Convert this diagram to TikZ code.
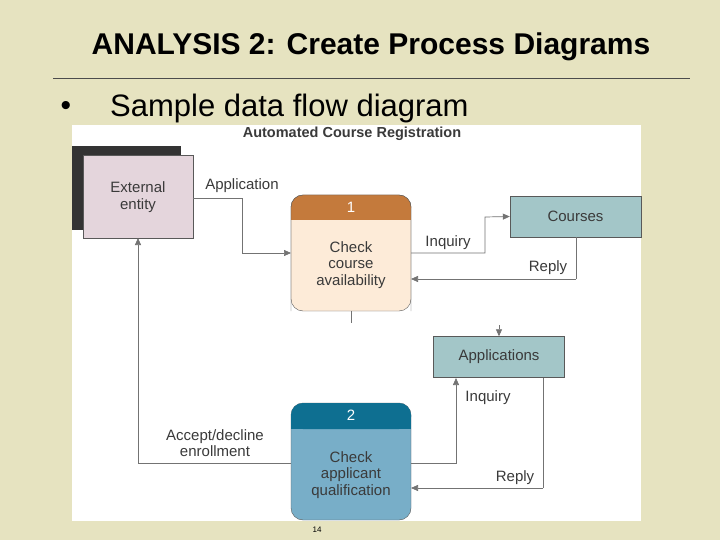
\documentclass[tikz,border=0pt]{standalone}
\usepackage{fontspec}
\setmainfont{Liberation Sans}
\usetikzlibrary{arrows.meta}
\definecolor{bg}{HTML}{E6E3C0}
\definecolor{entfill}{HTML}{E4D5DC}
\definecolor{storefill}{HTML}{A3C6C8}
\definecolor{ohead}{HTML}{C47A3C}
\definecolor{obody}{HTML}{FDEBD8}
\definecolor{bhead}{HTML}{0E6F91}
\definecolor{bbody}{HTML}{78AEC8}
\definecolor{txt}{HTML}{3A3A3A}
\tikzset{
 lbl/.style={font=\fontsize{15}{16.5}\selectfont, text=txt, align=center, inner sep=0pt},
 store/.style={draw=gray!70!black, fill=storefill, minimum width=131pt, minimum height=41pt, lbl, inner sep=0pt},
 flow/.style={draw=gray!90!black, line width=0.7pt, -{Triangle[length=7pt,width=6pt]}},
 plain/.style={draw=gray!90!black, line width=0.7pt},
}
\begin{document}
\begin{tikzpicture}[x=1pt,y=-1pt]
\useasboundingbox (0,0) rectangle (720,540);
\fill[bg] (0,0) rectangle (720,540);
\node (title) at (371,47) {\fontsize{30}{34}\selectfont\bfseries ANALYSIS 2: Create Process Diagrams};
\draw[black!70, line width=0.6pt] (53,78) -- (690,78);
\node (bul) at (66,108) {\fontsize{30}{34}\selectfont •};
\node[anchor=west, inner sep=0pt] (sub) at (110,108) {\fontsize{31}{34}\selectfont Sample data flow diagram};
\fill[white] (72,125) rectangle (641,521);
\node (head) at (352,134) {\fontsize{14.5}{16}\selectfont\bfseries\color{txt}Automated Course Registration};
% external entity
\fill[black!80] (72,146) rectangle (181,230);
\draw[gray!70!black, fill=entfill] (83,155) rectangle (193,238);
\node[lbl] (ext) at (138,197) {External\\entity};
\coordinate (extR) at (193,198);
\coordinate (extB) at (138,238);
% process 1
\draw[gray!70!black, fill=obody, rounded corners=12pt] (291,195) rectangle (411,311);
\fill[ohead, rounded corners=12pt] (291,195) -- (411,195) -- (411,220) -- (291,220) -- cycle;
\fill[ohead] (291,208) rectangle (411,220);
\draw[gray!70!black, rounded corners=12pt] (291,311) -- (291,195) -- (411,195) -- (411,311);
\node[lbl, text=white] (n1) at (351,207) {1};
\node[lbl] (p1) at (351,265) {Check\\course\\availability};
\coordinate (p1a) at (291,253);
\coordinate (p1b) at (411,253);
\coordinate (p1c) at (411,279);
\coordinate (p1d) at (351,311);
\coordinate (p1e) at (351,323);
% process 2
\draw[gray!70!black, fill=bbody, rounded corners=12pt] (291,403) rectangle (411,520);
\fill[bhead, rounded corners=12pt] (291,403) -- (411,403) -- (411,429) -- (291,429) -- cycle;
\fill[bhead] (291,416) rectangle (411,429);
\node[lbl, text=white] (n2) at (351,415) {2};
\node[lbl] (p2) at (351,475) {Check\\applicant\\qualification};
\coordinate (p2a) at (291,463);
\coordinate (p2b) at (411,463);
\coordinate (p2c) at (411,488);
% stores
\node[store] (courses) at (575.5,216.5) {Courses};
\node[store] (apps) at (499,357) {Applications};
% flows
\draw[flow] (extR) -- (242,198) -- (242,253) -- (p1a);
\node[lbl] (l1) at (242,186) {Application};
\draw[flow] (p1b) -- (485,253) -- (485,217) -- (courses.west);
\node[lbl] (l2) at (448,243) {Inquiry};
\draw[plain] (576,237) -- (576,279);
\draw[flow] (576,279) -- (p1c);
\node[lbl] (l3) at (548,268) {Reply};
\draw[plain] (p1d) -- (p1e);
\coordinate (ain) at (499,325);
\draw[flow] (ain) -- (apps.north);
\draw[flow] (p2b) -- (456,463) -- (456,378);
\node[lbl] (l4) at (488,398) {Inquiry};
\draw[plain] (543,378) -- (543,488);
\draw[flow] (543,488) -- (p2c);
\node[lbl] (l5) at (515,478) {Reply};
\draw[flow] (p2a) -- (138,463) -- (extB);
\node[lbl] (l6) at (215,443) {Accept/decline\\enrollment};
\node (pg) at (317,530) {\fontsize{8}{9}\selectfont 14};
\end{tikzpicture}
\end{document}
